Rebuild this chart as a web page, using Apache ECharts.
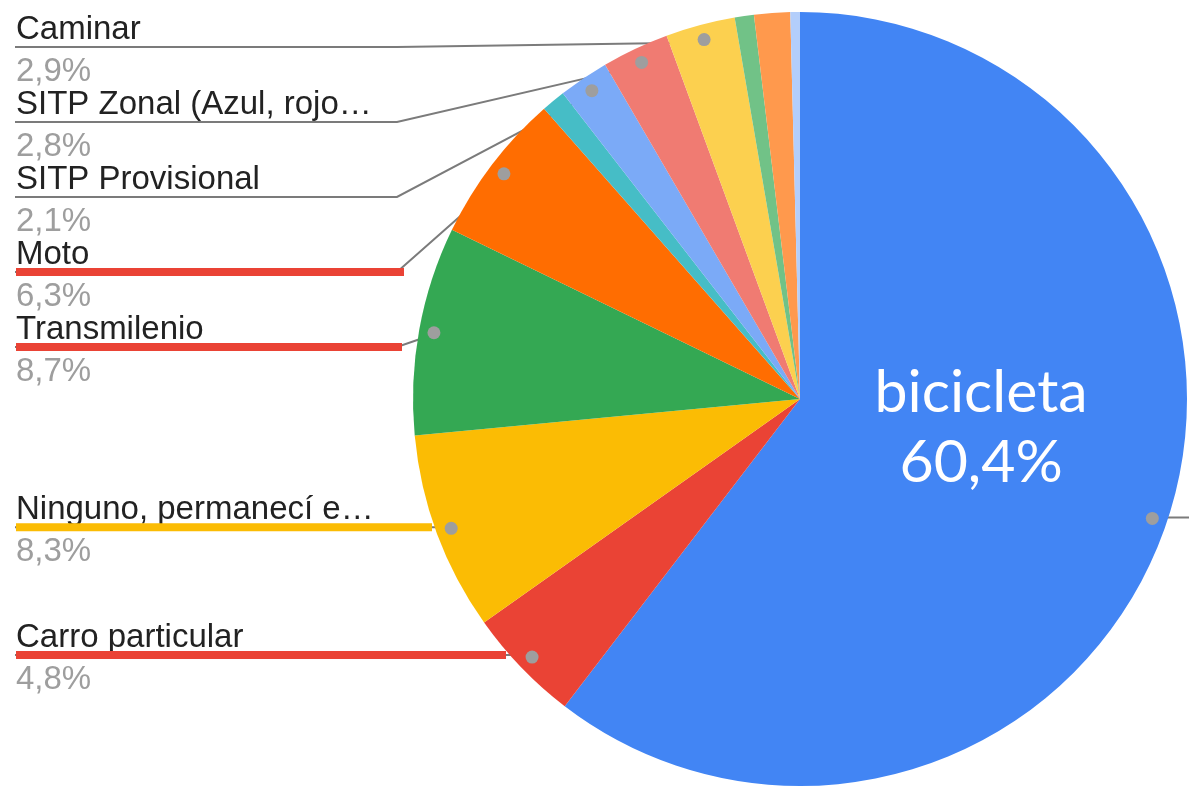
<!DOCTYPE html>
<html>
<head>
<meta charset="utf-8">
<script src="https://cdn.jsdelivr.net/npm/echarts@6/dist/echarts.min.js"></script>
<style>
  html, body { margin: 0; padding: 0; background: #fff; }
  #main { width: 1189px; height: 786px; }
</style>
</head>
<body>
<div id="main"></div>
<script>
// medios de transporte (en %)
var categorias = ['bicicleta', 'Carro particular', 'Ninguno, permanecí e…', 'Transmilenio', 'Moto', 'Taxi',
  'SITP Provisional', 'SITP Zonal (Azul, rojo…', 'Caminar', 'Patineta', 'Bus intermunicipal', 'Otro'];
var porcentajes = [60.4, 4.8, 8.3, 8.7, 6.3, 1.0, 2.1, 2.8, 2.9, 0.8, 1.5, 0.4];
var colores = ['#4285f4', '#ea4335', '#fbbc04', '#34a853', '#ff6d01', '#46bdc6',
  '#7baaf7', '#f07b72', '#fcd04f', '#71c287', '#ff994d', '#b3cefb'];
var conEtiqueta = [true, true, true, true, true, false, true, true, true, false, false, false];

// subrayados de colores
var resaltado = {
  'Moto': { color: '#ea4335', width: 388 },
  'Transmilenio': { color: '#ea4335', width: 386 },
  'Ninguno, permanecí e…': { color: '#fbbc04', width: 416 },
  'Carro particular': { color: '#ea4335', width: 490 }
};

var cx = 800, cy = 399, R = 387, rDot = 369;
var fuente = '"Liberation Sans", Arial, sans-serif';

var fmt = function (v) {
  return v.toFixed(1).replace('.', ',') + '%';
};

// posicion del punto de cada etiqueta y apilado de etiquetas a la izquierda
var total = porcentajes.reduce(function (a, b) { return a + b; }, 0);
var acc = 0;
var puntos = porcentajes.map(function (v) {
  var a = (acc + v / 2) / total * 2 * Math.PI;
  acc += v;
  return [cx + rDot * Math.sin(a), cy - rDot * Math.cos(a)];
});
var izq = [];
for (var i = 0; i < puntos.length; i++) {
  if (conEtiqueta[i] && puntos[i][0] < cx) izq.push(i);
}
izq.sort(function (a, b) { return puntos[a][1] - puntos[b][1]; });
var etiquetaY = {};
var prev = -Infinity;
izq.forEach(function (i) {
  var y = Math.max(puntos[i][1], 47, prev + 75);
  etiquetaY[i] = y;
  prev = y;
});

var rich = {
  nombre: { fontFamily: fuente, fontSize: 33, color: '#222222', lineHeight: 34 },
  pct: { fontFamily: fuente, fontSize: 33, color: '#9e9e9e', lineHeight: 50 },
  hr: { height: 0, lineHeight: 0 }
};
categorias.forEach(function (c, i) {
  if (resaltado[c]) {
    rich['hr' + i] = { height: 0, lineHeight: 0, width: resaltado[c].width,
      borderColor: resaltado[c].color, borderWidth: 8 };
  }
});

var chart = echarts.init(document.getElementById('main'));

var option = {
  animation: false,
  series: [
    {
      type: 'pie',
      center: [cx, cy],
      radius: [0, R],
      startAngle: 90,
      avoidLabelOverlap: false,
      silent: true,
      itemStyle: { borderWidth: 0 },
      data: categorias.map(function (c, i) {
        return {
          name: c, value: porcentajes[i],
          itemStyle: { color: colores[i] },
          label: { show: conEtiqueta[i] },
          labelLine: { show: conEtiqueta[i] }
        };
      }),
      label: {
        position: 'outside',
        formatter: function (p) {
          if (p.dataIndex === 0) return ' ';
          var hr = resaltado[p.name] ? 'hr' + p.dataIndex : 'hr';
          return '{nombre|' + p.name + '}\n{' + hr + '|}\n{pct|' + fmt(p.value) + '}';
        },
        rich: rich
      },
      labelLine: { show: true, smooth: false, lineStyle: { color: '#7b7b7b', width: 2 } },
      labelLayout: function (p) {
        var i = p.dataIndex, d = puntos[i];
        if (i === 0) {
          return { x: 1300, y: d[1], labelLinePoints: [d, [d[0] + 30, d[1]], [1300, d[1]]] };
        }
        var y = etiquetaY[i];
        return {
          x: 16, y: y + 8, align: 'left', verticalAlign: 'middle',
          labelLinePoints: [d, [397, y], [15, y]]
        };
      }
    },
    {
      // puntos al inicio de las lineas
      type: 'pie',
      center: [cx, cy],
      radius: [rDot - 10, rDot + 10],
      startAngle: 90,
      silent: true,
      avoidLabelOverlap: false,
      itemStyle: { color: 'transparent', borderWidth: 0 },
      emphasis: { disabled: true },
      data: categorias.map(function (c, i) {
        return { name: c, value: porcentajes[i], label: { show: conEtiqueta[i] } };
      }),
      label: {
        position: 'inside',
        formatter: '{p|}',
        rich: { p: { width: 13, height: 13, lineHeight: 13, borderRadius: 6.5, backgroundColor: '#9e9e9e' } }
      },
      labelLine: { show: false }
    },
    {
      // texto grande de bicicleta
      type: 'pie',
      center: [cx, cy],
      radius: [0, R],
      startAngle: 90,
      silent: true,
      avoidLabelOverlap: false,
      itemStyle: { color: 'transparent', borderWidth: 0 },
      emphasis: { disabled: true },
      data: categorias.map(function (c, i) {
        return { name: c, value: porcentajes[i], label: { show: i === 0 } };
      }),
      label: {
        position: 'inside',
        formatter: function (p) { return p.name + '\n' + fmt(p.value); },
        fontFamily: 'Lato',
        fontSize: 59,
        lineHeight: 70,
        color: '#ffffff',
        align: 'center'
      },
      labelLine: { show: false },
      labelLayout: function () {
        return { dx: -5, dy: -34 };
      }
    }
  ]
};

chart.setOption(option);
</script>
</body>
</html>
